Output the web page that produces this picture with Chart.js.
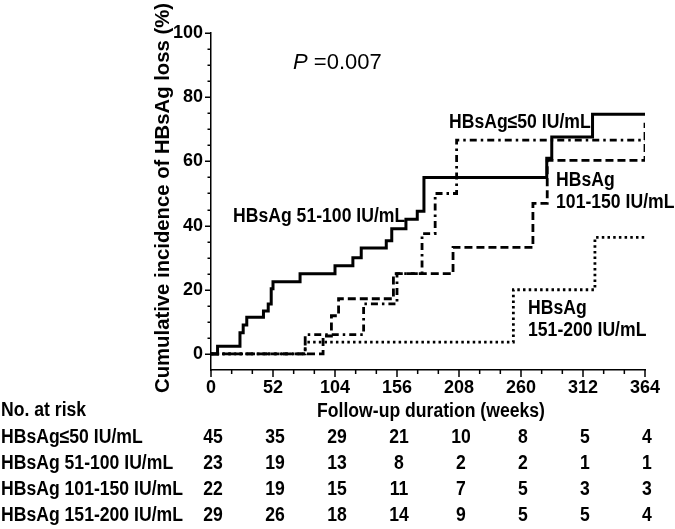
<!DOCTYPE html>
<html>
<head>
<meta charset="utf-8">
<script src="https://cdn.jsdelivr.net/npm/chart.js@4.4.1/dist/chart.umd.min.js"></script>
<style>
  html, body { margin: 0; padding: 0; background: #fff; }
  canvas { display: block; }
</style>
</head>
<body>
<canvas id="km" width="675" height="529"></canvas>
<script>
// --- данные ---
// HBsAg 51-100 IU/mL (сплошная)
const weeks51 = [0, 5.5, 24.3, 27, 30, 44, 48, 50.5, 52, 74.7, 104, 119, 126, 147, 151.6, 163.5, 173, 178.6, 281.6, 285.8, 320, 364];
const inc51   = [0, 2.4, 6.6, 9, 11.4, 13.4, 15.6, 20.3, 22.5, 25, 27.5, 30, 33, 35.3, 39, 42, 44.5, 55, 61, 67.6, 74.7, 74.7];
// HBsAg<=50 IU/mL (штрих-пунктир)
const weeks50 = [0, 79, 128, 156, 177, 188, 206, 364];
const inc50   = [0, 6, 15.6, 25, 37.5, 50, 66.6, 66.6];
// HBsAg 101-150 IU/mL (штрих)
const weeks101 = [0, 94, 101, 107, 153, 203, 270, 282, 364];
const inc101   = [0, 5.6, 11.9, 17.2, 25, 33.2, 46.9, 60.3, 72];
// HBsAg 151-200 IU/mL (точки)
const weeks151 = [0, 79, 253.6, 322, 364];
const inc151   = [0, 3.7, 20, 36.3, 36.3];

const xTicks = [0, 52, 104, 156, 208, 260, 312, 364];
const yTicks = [0, 20, 40, 60, 80, 100];

// таблица "No. at risk"
const riskLabels = ["HBsAg\u226450 IU/mL", "HBsAg 51-100 IU/mL", "HBsAg 101-150 IU/mL", "HBsAg 151-200 IU/mL"];
const risk50  = [45, 35, 29, 21, 10, 8, 5, 4];
const risk51  = [23, 19, 13, 8, 2, 2, 1, 1];
const risk101 = [22, 19, 15, 11, 7, 5, 3, 3];
const risk151 = [29, 26, 18, 14, 9, 5, 5, 4];

// подписи кривых (в единицах осей: неделя, %)
const curveNotes = [
  { lines: ["HBsAg\u226450 IU/mL"], at: [199.6, 72] },
  { lines: ["HBsAg", "101-150 IU/mL"], at: [289.4, 54.2] },
  { lines: ["HBsAg 51-100 IU/mL"], at: [18.5, 42.8] },
  { lines: ["HBsAg", "151-200 IU/mL"], at: [265.9, 14.3] }
];

const FONT = '"Liberation Sans", Arial, sans-serif';

const toXY = (xs, ys) => xs.map((x, i) => ({ x, y: ys[i] }));

function txt(ctx, s, px, py, o = {}) {
  const size = o.size || 20, sx = o.sx || 0.88;
  ctx.save();
  ctx.translate(px, py);
  if (o.rot) ctx.rotate(o.rot);
  ctx.scale(sx, 1);
  ctx.font = `${o.style || "normal"} ${o.weight || "bold"} ${size}px ${FONT}`;
  ctx.fillStyle = "#000";
  ctx.textAlign = o.align || "left";
  ctx.textBaseline = "middle";
  ctx.fillText(s, 0, 0);
  const w = ctx.measureText(s).width * sx;
  ctx.restore();
  return w;
}

const decor = {
  id: "decor",
  afterDraw(chart) {
    const { ctx } = chart;
    const x = chart.scales.x, y = chart.scales.y;
    ctx.save();
    ctx.strokeStyle = "#000";
    ctx.lineWidth = 1.5;
    // засечки оси Y (каждые 5%)
    for (let v = 0; v <= 100; v += 5) {
      const py = Math.round(y.getPixelForValue(v)) + 0.25;
      const len = v % 20 === 0 ? 6 : 3.5;
      ctx.beginPath(); ctx.moveTo(x.left - len, py); ctx.lineTo(x.left, py); ctx.stroke();
    }
    // засечки оси X (52/3 недели)
    for (let i = 0; i <= 21; i++) {
      const px = x.getPixelForValue(i * 52 / 3);
      const len = i % 3 === 0 ? 7 : 4;
      ctx.beginPath(); ctx.moveTo(px, y.bottom); ctx.lineTo(px, y.bottom + len); ctx.stroke();
    }
    ctx.restore();

    // заголовок оси Y
    txt(ctx, "Cumulative incidence of HBsAg loss (%)", 163, 198, { size: 20.3, sx: 1, align: "center", rot: -Math.PI / 2 });
    // заголовок оси X
    txt(ctx, "Follow-up duration (weeks)", (x.left + x.right) / 2 + 3, 411, { align: "center" });

    // P-value
    const px0 = x.getPixelForValue(68.8), py0 = y.getPixelForValue(90.7);
    const wP = txt(ctx, "P", px0, py0, { size: 22, sx: 1, weight: "normal", style: "italic" });
    txt(ctx, " =0.007", px0 + wP, py0, { size: 22, sx: 1, weight: "normal" });

    // подписи кривых
    curveNotes.forEach(n => {
      const px = x.getPixelForValue(n.at[0]);
      const py = y.getPixelForValue(n.at[1]);
      n.lines.forEach((s, i) => txt(ctx, s, px, py + i * 22));
    });

    // таблица риска
    txt(ctx, "No. at risk", 1, 410);
    const rows = [risk50, risk51, risk101, risk151];
    rows.forEach((r, i) => {
      const py = 437 + i * 26;
      txt(ctx, riskLabels[i], 1, py);
      r.forEach((n, j) => txt(ctx, String(n), x.getPixelForValue(xTicks[j]) + 2, py, { align: "center" }));
    });
  }
};

const base = { pointRadius: 0, borderColor: "#000", borderWidth: 2.8, fill: false, stepped: true, tension: 0 };

new Chart(document.getElementById("km").getContext("2d"), {
  type: "line",
  data: {
    datasets: [
      { ...base, label: "HBsAg 51-100 IU/mL", data: toXY(weeks51, inc51), borderWidth: 3 },
      { ...base, label: "HBsAg\u226450 IU/mL", data: toXY(weeks50, inc50), borderDash: [7, 4, 2.5, 4] },
      { ...base, label: "HBsAg 101-150 IU/mL", data: toXY(weeks101, inc101), borderDash: [8, 4] },
      { ...base, label: "HBsAg 151-200 IU/mL", data: toXY(weeks151, inc151), borderDash: [2.5, 3.2] }
    ]
  },
  options: {
    responsive: false,
    animation: false,
    devicePixelRatio: 1,
    layout: { padding: { top: 33, left: 0, right: 30, bottom: 0 } },
    plugins: { legend: { display: false }, tooltip: { enabled: false } },
    scales: {
      x: {
        type: "linear", min: 0, max: 364,
        afterBuildTicks: s => { s.ticks = xTicks.map(v => ({ value: v })); },
        afterFit: s => { s.height = 159; },
        ticks: { color: "#000", padding: 7, maxRotation: 0, font: { family: FONT, size: 18, weight: "bold" } },
        grid: { display: true, drawOnChartArea: false, drawTicks: false },
        border: { display: true, color: "#000", width: 1.5 }
      },
      y: {
        type: "linear", min: -5, max: 100,
        afterBuildTicks: s => { s.ticks = yTicks.map(v => ({ value: v })); },
        afterFit: s => { s.width = 211; },
        ticks: { color: "#000", padding: 8, font: { family: FONT, size: 18, weight: "bold" } },
        grid: { display: true, drawOnChartArea: false, drawTicks: false },
        border: { display: true, color: "#000", width: 1.5 }
      }
    }
  },
  plugins: [decor]
});
</script>
</body>
</html>
